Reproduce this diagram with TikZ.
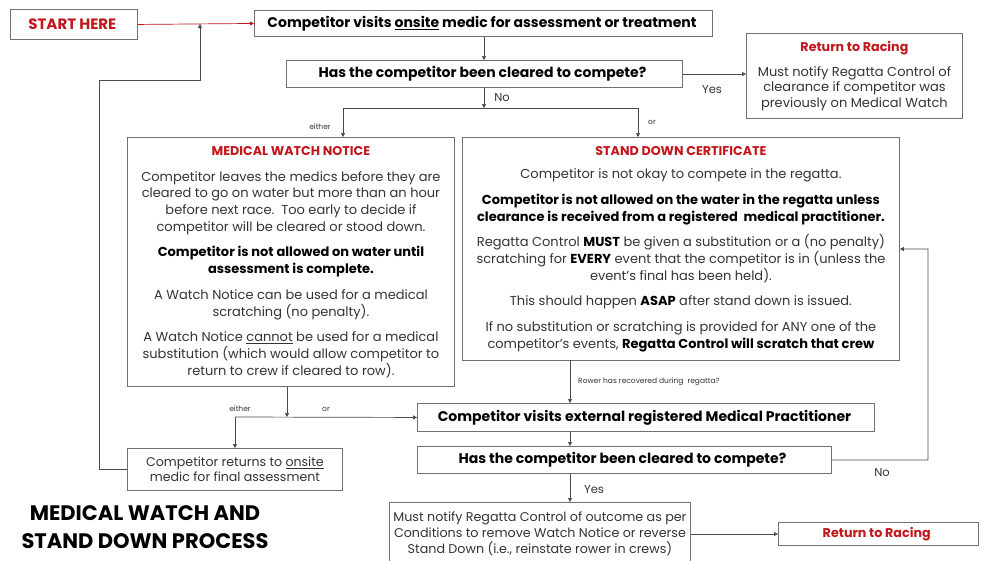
\documentclass[tikz,border=0pt]{standalone}
\usepackage{fontspec}
\setmainfont{Poppins}
\usetikzlibrary{arrows.meta}
\definecolor{racered}{HTML}{C3161C}
\definecolor{boxgray}{HTML}{707070}
\definecolor{linegray}{HTML}{4A4A4A}
\definecolor{inkgray}{HTML}{333333}
\newcommand\panelfont{\fontsize{13}{16.7}\selectfont}
\newcommand\askfont{\bfseries\fontsize{14}{16}\selectfont}
\newcommand\tagfont{\fontsize{7.5}{9}\selectfont}
\newcommand\redhead[1]{{\color{racered}\bfseries\fontsize{12.7}{14}\selectfont #1}}
\newcommand\blk[1]{{\color{black}\bfseries #1}}
\def\paragap{9pt}

\begin{document}
\begin{tikzpicture}[x=1pt,y=-1pt,
    arrowtip/.style={
      -{Triangle[length=4pt,width=4pt]}
    },
    flow/.style={
      draw=linegray, line width=0.7pt
    },
    panel/.style={
      draw=boxgray, line width=0.9pt, anchor=north west,
      inner sep=0pt, align=center, text=inkgray, font=\panelfont
    },
    question/.style={
      panel, text=black, font=\askfont
    },
    tag/.style={
      font=\tagfont, text=inkgray, inner sep=1pt
    },
    answer/.style={
      font=\fontsize{11.5}{13}\selectfont, text=inkgray, inner sep=1pt
    }
  ]
    \useasboundingbox (0,0) rectangle (983,560);

    % top row
    \node[panel, minimum width=127, minimum height=30, text=racered,
          font=\bfseries\fontsize{15}{17}\selectfont] (Start) at (10,9) { START HERE };
    \node[question, minimum width=458, minimum height=26] (VisitOnsite) at (254,10)
      { Competitor visits \underline{onsite} medic for assessment or treatment };
    \node[question, minimum width=396, minimum height=27] (ClearedA) at (286,60)
      { Has the competitor been cleared to compete? };
    \node[panel, minimum width=216, minimum height=85,
          font=\fontsize{13}{15.5}\selectfont] (ReturnA) at (746,33)
      { \redhead{Return to Racing}\\[9pt]
        Must notify Regatta Control of\\
        clearance if competitor was\\
        previously on Medical Watch };

    % the two outcomes
    \node[panel, minimum width=327, minimum height=249] (WatchNotice) at (127,137)
      { \redhead{MEDICAL WATCH NOTICE}\\[\paragap]
        Competitor leaves the medics before they are\\
        cleared to go on water but more than an hour\\
        before next race.\ \ Too early to decide if\\
        competitor will be cleared or stood down.\\[\paragap]
        \blk{Competitor is not allowed on water until}\\
        \blk{assessment is complete.}\\[\paragap]
        A Watch Notice can be used for a medical\\
        scratching (no penalty).\\[\paragap]
        A Watch Notice \underline{cannot} be used for a medical\\
        substitution (which would allow competitor to\\
        return to crew if cleared to row). };
    \node[panel, minimum width=437, minimum height=223] (StandDown) at (462,137)
      { \redhead{STAND DOWN CERTIFICATE}\\[7pt]
        Competitor is not okay to compete in the regatta.\\[\paragap]
        \blk{Competitor is not allowed on the water in the regatta unless}\\
        \blk{clearance is received from a registered\ \ medical practitioner.}\\[\paragap]
        Regatta Control \blk{MUST} be given a substitution or a (no penalty)\\
        scratching for \blk{EVERY} event that the competitor is in (unless the\\
        event's final has been held).\\[\paragap]
        This should happen \blk{ASAP} after stand down is issued.\\[\paragap]
        If no substitution or scratching is provided for ANY one of the\\
        competitor's events, \blk{Regatta Control will scratch that crew} };

    % lower part
    \node[panel, minimum width=215, minimum height=42,
          font=\fontsize{12.6}{15}\selectfont] (ReturnsOnsite) at (127,448)
      { Competitor returns to \underline{onsite}\\ medic for final assessment };
    \node[question, minimum width=457, minimum height=28] (VisitExternal) at (417,403)
      { Competitor visits external registered Medical Practitioner };
    \node[question, minimum width=414, minimum height=27] (ClearedB) at (417,446)
      { Has the competitor been cleared to compete? };
    \node[panel, minimum width=301, minimum height=62,
          font=\fontsize{12.7}{16}\selectfont] (NotifyOutcome) at (389,502)
      { Must notify Regatta Control of outcome as per\\
        Conditions to remove Watch Notice or reverse\\
        Stand Down (i.e., reinstate rower in crews) };
    \node[panel, minimum width=200, minimum height=23] (ReturnB) at (778,522)
      { \redhead{Return to Racing} };

    \node[align=center, text=black, font=\bfseries\fontsize{21}{28}\selectfont]
      (Title) at (145,527) { MEDICAL WATCH AND\\STAND DOWN PROCESS };

    % helper points
    \coordinate (LoopTop)  at (200,24);
    \coordinate (LoopBend) at (200,80);
    \coordinate (NoJoin)   at (484,108);
    \coordinate (SplitL)   at (343,108);
    \coordinate (SplitR)   at (638,108);
    \coordinate (WatchOut) at (287,417);
    \coordinate (BackL)    at (235,417);
    \coordinate (Recover)  at (570,360);
    \coordinate (LoopNo)   at (928,460);

    % arrows
    \draw[flow, draw=racered, arrowtip] (Start.east) -- (VisitOnsite.west);
    \draw[flow, arrowtip] (ReturnsOnsite.west) -- ++(-28,0) |- (LoopBend) -- (LoopTop);
    \draw[flow, arrowtip] (NoJoin |- VisitOnsite.south) -- (NoJoin |- ClearedA.north);
    \draw[flow, arrowtip] (ClearedA.east) -- (ClearedA.east -| ReturnA.west);
    \draw[flow, arrowtip] (NoJoin |- ClearedA.south) -- (NoJoin);
    \draw[flow] (SplitL) -- (SplitR);
    \draw[flow, arrowtip] (SplitL) -- (SplitL |- WatchNotice.north);
    \draw[flow, arrowtip] (SplitR) -- (SplitR |- StandDown.north);
    \draw[flow, arrowtip] (WatchNotice.south -| WatchOut) -- (WatchOut);
    \draw[flow, arrowtip] (BackL) -- (VisitExternal.west);
    \draw[flow, arrowtip] (BackL) -- (BackL |- ReturnsOnsite.north);
    \draw[flow, arrowtip] (Recover) -- (Recover |- VisitExternal.north);
    \draw[flow, arrowtip] (Recover |- VisitExternal.south) -- (Recover |- ClearedB.north);
    \draw[flow, arrowtip] (Recover |- ClearedB.south) -- (Recover |- NotifyOutcome.north);
    \draw[flow, arrowtip] (ClearedB.east) -- (LoopNo) |- (StandDown.east |- 0,249);
    \draw[flow, arrowtip] (NotifyOutcome.east |- ReturnB.west) -- (ReturnB.west);

    % labels
    \node[answer] (YesA) at (712,90) { Yes };
    \node[answer] (NoA)  at (502,98) { No };
    \node[tag] (EitherA) at (320,127) { either };
    \node[tag] (OrA)     at (652,122) { or };
    \node[tag] (EitherB) at (240,409) { either };
    \node[tag] (OrB)     at (326,409) { or };
    \node[tag, anchor=west] (RecoverNote) at (577,382) { Rower has recovered during\ \ regatta? };
    \node[answer] (YesB) at (594,490) { Yes };
    \node[answer] (NoB)  at (882,473) { No };
  \end{tikzpicture}
\end{document}
